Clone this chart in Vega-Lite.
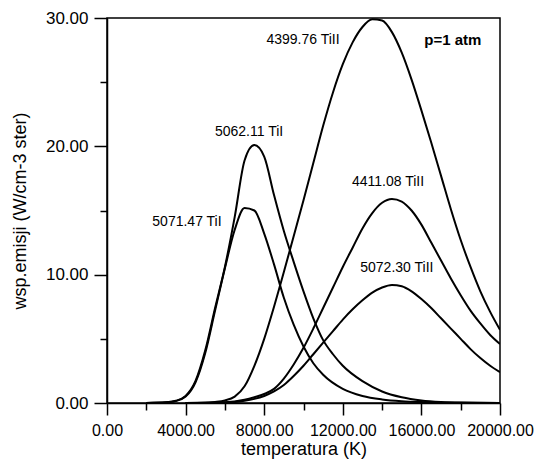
{
  "$schema": "https://vega.github.io/schema/vega-lite/v6.json",
  "autosize": {"type": "none"},
  "width": 393,
  "height": 385,
  "padding": {"left": 107, "top": 18, "right": 37, "bottom": 58},
  "background": "white",
  "config": {
    "view": {"stroke": "black", "strokeWidth": 1.5},
    "font": "Liberation Sans",
    "axis": {"grid": false, "domainColor": "black", "tickColor": "black", "labelColor": "black", "titleColor": "black", "domainWidth": 1.5, "tickWidth": 1.5, "labelOverlap": false, "labelFlush": false, "labelBound": false}
  },
  "datasets": {
    "curves": [
      {"s":"A","T":2000,"v":0},{"s":"A","T":3000,"v":0.05},{"s":"A","T":3500,"v":0.15},{"s":"A","T":4000,"v":0.5},{"s":"A","T":4500,"v":1.6},{"s":"A","T":5000,"v":3.9},{"s":"A","T":5500,"v":7.2},{"s":"A","T":6000,"v":10.5},{"s":"A","T":6500,"v":13.5},{"s":"A","T":7000,"v":15.2},{"s":"A","T":7500,"v":15.0},{"s":"A","T":8000,"v":13.2},{"s":"A","T":8500,"v":10.8},{"s":"A","T":9000,"v":8.2},{"s":"A","T":9500,"v":6.1},{"s":"A","T":10000,"v":4.4},{"s":"A","T":10500,"v":3.1},{"s":"A","T":11000,"v":2.2},{"s":"A","T":12000,"v":1.1},{"s":"A","T":13000,"v":0.55},{"s":"A","T":14000,"v":0.28},{"s":"A","T":15000,"v":0.14},{"s":"A","T":16000,"v":0.07},{"s":"A","T":17000,"v":0.03},{"s":"A","T":18000,"v":0.01},{"s":"A","T":20000,"v":0},
      {"s":"B","T":2000,"v":0},{"s":"B","T":3000,"v":0.05},{"s":"B","T":3500,"v":0.17},{"s":"B","T":4000,"v":0.55},{"s":"B","T":4500,"v":1.7},{"s":"B","T":5000,"v":4.1},{"s":"B","T":5500,"v":7.4},{"s":"B","T":6000,"v":10.6},{"s":"B","T":6500,"v":14.5},{"s":"B","T":7000,"v":18.9},{"s":"B","T":7500,"v":20.1},{"s":"B","T":8000,"v":19.2},{"s":"B","T":8500,"v":16.2},{"s":"B","T":9000,"v":13.4},{"s":"B","T":9500,"v":11.0},{"s":"B","T":10000,"v":8.7},{"s":"B","T":10500,"v":6.6},{"s":"B","T":11000,"v":4.9},{"s":"B","T":11500,"v":3.8},{"s":"B","T":12000,"v":2.9},{"s":"B","T":13000,"v":1.7},{"s":"B","T":14000,"v":0.9},{"s":"B","T":15000,"v":0.45},{"s":"B","T":16000,"v":0.2},{"s":"B","T":17000,"v":0.08},{"s":"B","T":18000,"v":0.03},{"s":"B","T":20000,"v":0},
      {"s":"C","T":4000,"v":0},{"s":"C","T":5000,"v":0.02},{"s":"C","T":5500,"v":0.08},{"s":"C","T":6000,"v":0.2},{"s":"C","T":6500,"v":0.5},{"s":"C","T":7000,"v":1.3},{"s":"C","T":7500,"v":2.9},{"s":"C","T":8000,"v":5.0},{"s":"C","T":8500,"v":7.5},{"s":"C","T":9000,"v":10.2},{"s":"C","T":9500,"v":13.0},{"s":"C","T":10000,"v":15.8},{"s":"C","T":10500,"v":18.7},{"s":"C","T":11000,"v":21.6},{"s":"C","T":11500,"v":24.2},{"s":"C","T":12000,"v":26.4},{"s":"C","T":12500,"v":28.1},{"s":"C","T":13000,"v":29.3},{"s":"C","T":13500,"v":29.9},{"s":"C","T":14000,"v":29.8},{"s":"C","T":14500,"v":28.9},{"s":"C","T":15000,"v":27.3},{"s":"C","T":15500,"v":25.2},{"s":"C","T":16000,"v":22.8},{"s":"C","T":16500,"v":20.3},{"s":"C","T":17000,"v":17.7},{"s":"C","T":17500,"v":15.1},{"s":"C","T":18000,"v":12.7},{"s":"C","T":18500,"v":10.6},{"s":"C","T":19000,"v":8.7},{"s":"C","T":19500,"v":7.1},{"s":"C","T":20000,"v":5.7},
      {"s":"D","T":4000,"v":0},{"s":"D","T":6000,"v":0.05},{"s":"D","T":7000,"v":0.25},{"s":"D","T":7500,"v":0.45},{"s":"D","T":8000,"v":0.7},{"s":"D","T":8500,"v":1.1},{"s":"D","T":9000,"v":1.9},{"s":"D","T":9500,"v":3.0},{"s":"D","T":10000,"v":4.3},{"s":"D","T":10500,"v":5.8},{"s":"D","T":11000,"v":7.4},{"s":"D","T":11500,"v":9.0},{"s":"D","T":12000,"v":10.6},{"s":"D","T":12500,"v":12.1},{"s":"D","T":13000,"v":13.6},{"s":"D","T":13500,"v":14.8},{"s":"D","T":14000,"v":15.6},{"s":"D","T":14500,"v":15.9},{"s":"D","T":15000,"v":15.7},{"s":"D","T":15500,"v":15.0},{"s":"D","T":16000,"v":13.9},{"s":"D","T":16500,"v":12.5},{"s":"D","T":17000,"v":11.1},{"s":"D","T":17500,"v":9.7},{"s":"D","T":18000,"v":8.4},{"s":"D","T":18500,"v":7.2},{"s":"D","T":19000,"v":6.2},{"s":"D","T":19500,"v":5.3},{"s":"D","T":20000,"v":4.6},
      {"s":"E","T":4000,"v":0},{"s":"E","T":6000,"v":0.03},{"s":"E","T":7000,"v":0.17},{"s":"E","T":7500,"v":0.32},{"s":"E","T":8000,"v":0.55},{"s":"E","T":8500,"v":0.9},{"s":"E","T":9000,"v":1.4},{"s":"E","T":9500,"v":2.1},{"s":"E","T":10000,"v":2.9},{"s":"E","T":10500,"v":3.8},{"s":"E","T":11000,"v":4.7},{"s":"E","T":11500,"v":5.6},{"s":"E","T":12000,"v":6.5},{"s":"E","T":12500,"v":7.3},{"s":"E","T":13000,"v":8.0},{"s":"E","T":13500,"v":8.6},{"s":"E","T":14000,"v":9.0},{"s":"E","T":14500,"v":9.2},{"s":"E","T":15000,"v":9.1},{"s":"E","T":15500,"v":8.7},{"s":"E","T":16000,"v":8.1},{"s":"E","T":16500,"v":7.4},{"s":"E","T":17000,"v":6.6},{"s":"E","T":17500,"v":5.8},{"s":"E","T":18000,"v":5.0},{"s":"E","T":18500,"v":4.2},{"s":"E","T":19000,"v":3.5},{"s":"E","T":19500,"v":2.9},{"s":"E","T":20000,"v":2.4}
    ],
    "labels": [
      {"label":"4399.76 TiII","T":9975,"v":28.3},
      {"label":"5062.11 TiI","T":7230,"v":21.1},
      {"label":"5071.47 TiI","T":4070,"v":14.1},
      {"label":"4411.08 TiII","T":14300,"v":17.2},
      {"label":"5072.30 TiII","T":14750,"v":10.5}
    ],
    "note": [
      {"label":"p=1 atm","T":17600,"v":28.3}
    ]
  },
  "resolve": {"axis": {"x": "independent", "y": "independent"}},
  "layer": [
    {
      "data": {"name": "curves"},
      "mark": {"type": "line", "color": "black", "strokeWidth": 2, "interpolate": "monotone", "clip": true},
      "encoding": {
        "x": {"field": "T", "type": "quantitative", "scale": {"domain": [0, 20000], "nice": false},
          "axis": {"orient": "bottom", "values": [0, 4000, 8000, 12000, 16000, 20000], "format": ".2f", "tickSize": 12, "labelFontSize": 16, "labelPadding": 7, "title": "temperatura (K)", "titleFontSize": 18, "titleFontWeight": "normal", "titlePadding": 2}},
        "y": {"field": "v", "type": "quantitative", "scale": {"domain": [0, 30], "nice": false},
          "axis": {"orient": "left", "values": [0, 10, 20, 30], "format": ".2f", "tickSize": 13, "labelFontSize": 17, "labelPadding": 6, "title": "wsp.emisji (W/cm-3 ster)", "titleFontSize": 18, "titleFontWeight": "normal", "titlePadding": 16}},
        "detail": {"field": "s"}
      }
    },
    {
      "data": {"name": "labels"},
      "mark": {"type": "text", "fontSize": 14, "color": "black", "align": "center", "baseline": "middle"},
      "encoding": {
        "x": {"field": "T", "type": "quantitative", "axis": {"orient": "bottom", "values": [2000, 6000, 10000, 14000, 18000], "tickSize": 7, "labels": false, "domain": false, "title": null}},
        "y": {"field": "v", "type": "quantitative", "axis": {"orient": "left", "values": [5, 15, 25], "tickSize": 7, "labels": false, "domain": false, "title": null}},
        "text": {"field": "label"}
      }
    },
    {
      "data": {"name": "note"},
      "mark": {"type": "text", "fontSize": 15, "fontWeight": "bold", "color": "black", "align": "center", "baseline": "middle"},
      "encoding": {
        "x": {"field": "T", "type": "quantitative", "axis": null},
        "y": {"field": "v", "type": "quantitative", "axis": null},
        "text": {"field": "label"}
      }
    }
  ]
}
